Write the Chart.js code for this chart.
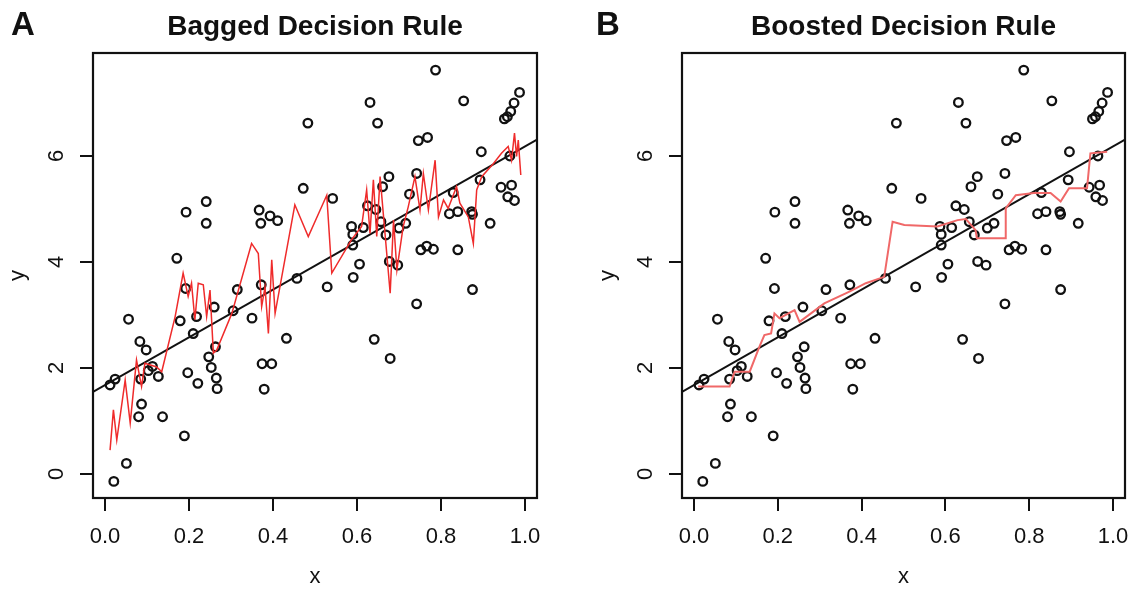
<!DOCTYPE html>
<html>
<head>
<meta charset="utf-8">
<script src="https://cdn.jsdelivr.net/npm/chart.js@4/dist/chart.umd.min.js"></script>
<style>
  body { margin: 0; background: #fff; }
  #wrap { position: relative; width: 1134px; height: 590px; overflow: hidden; }
  .tag { position: absolute; top: 7px; font: bold 33px/33px "Liberation Sans", Arial, sans-serif; color: #111; }
  canvas { position: absolute; top: 0; }
</style>
</head>
<body>
<div id="wrap">
  <canvas id="chartA" width="567" height="590" style="left:0"></canvas>
  <canvas id="chartB" width="567" height="590" style="left:567px"></canvas>
  <div class="tag" style="left:11px">A</div>
  <div class="tag" style="left:596px">B</div>
</div>
<script>
// ── DATA ──────────────────────────────────────────────────
const xTicks = [0, 0.2, 0.4, 0.6, 0.8, 1.0];
const yTicks = [0, 2, 4, 6];
const xRange = [-0.0286, 1.0286];
const yRange = [-0.453, 7.943];

// observations (same in both panels)
const ptX = [0.012, 0.024, 0.021, 0.051, 0.056, 0.080, 0.083, 0.085, 0.087, 0.098,
  0.103, 0.113, 0.127, 0.137, 0.171, 0.179, 0.189, 0.192, 0.193, 0.197,
  0.210, 0.218, 0.221, 0.241, 0.241, 0.247, 0.253, 0.260, 0.263, 0.265,
  0.267, 0.305, 0.315, 0.350, 0.367, 0.371, 0.372, 0.374, 0.379, 0.393,
  0.397, 0.411, 0.432, 0.457, 0.472, 0.483, 0.529, 0.542, 0.587, 0.590,
  0.590, 0.591, 0.606, 0.615, 0.625, 0.631, 0.641, 0.645, 0.649, 0.657,
  0.661, 0.669, 0.676, 0.677, 0.679, 0.697, 0.700, 0.716, 0.725, 0.742,
  0.742, 0.746, 0.752, 0.766, 0.768, 0.782, 0.787, 0.820, 0.829, 0.840,
  0.840, 0.854, 0.873, 0.875, 0.875, 0.893, 0.896, 0.917, 0.943, 0.951,
  0.958, 0.959, 0.964, 0.966, 0.968, 0.974, 0.975, 0.987];
const ptY = [1.68, 1.79, -0.14, 0.20, 2.92, 1.08, 2.50, 1.79, 1.32, 2.34,
  1.95, 2.03, 1.84, 1.08, 4.07, 2.89, 0.72, 3.50, 4.94, 1.91,
  2.65, 2.97, 1.71, 5.14, 4.73, 2.21, 2.01, 3.15, 2.40, 1.81,
  1.61, 3.08, 3.48, 2.94, 4.98, 4.73, 3.57, 2.08, 1.60, 4.87,
  2.08, 4.78, 2.56, 3.69, 5.39, 6.62, 3.53, 5.20, 4.67, 4.52,
  4.32, 3.71, 3.96, 4.65, 5.06, 7.01, 2.54, 4.99, 6.62, 4.76,
  5.42, 4.51, 5.61, 4.01, 2.18, 3.94, 4.64, 4.73, 5.28, 5.67,
  3.21, 6.29, 4.23, 4.30, 6.35, 4.24, 7.62, 4.91, 5.31, 4.95,
  4.23, 7.04, 4.95, 4.90, 3.48, 5.55, 6.08, 4.73, 5.41, 6.70,
  6.74, 5.23, 6.00, 6.84, 5.45, 7.00, 5.16, 7.20];

// least squares line, read at the plot edges
const fitX = [-0.0286, 1.0286];
const fitY = [1.55, 6.31];

// bagged rule (panel A)
const bagX = [0.012, 0.020, 0.028, 0.048, 0.060, 0.075, 0.087, 0.095, 0.123, 0.135,
  0.167, 0.186, 0.198, 0.206, 0.214, 0.222, 0.234, 0.242, 0.250, 0.258,
  0.266, 0.302, 0.349, 0.365, 0.373, 0.381, 0.389, 0.397, 0.405, 0.452,
  0.484, 0.528, 0.540, 0.587, 0.611, 0.623, 0.631, 0.639, 0.647, 0.655,
  0.679, 0.687, 0.695, 0.710, 0.722, 0.738, 0.750, 0.758, 0.770, 0.786,
  0.794, 0.806, 0.817, 0.837, 0.845, 0.865, 0.877, 0.885, 0.897, 0.925,
  0.944, 0.960, 0.968, 0.975, 0.980, 0.984, 0.990];
const bagY = [0.45, 1.21, 0.64, 1.77, 0.96, 2.15, 1.65, 2.09, 2.02, 1.93,
  2.97, 3.79, 3.35, 3.60, 2.91, 3.60, 3.57, 2.97, 3.47, 2.28,
  2.34, 3.03, 4.35, 4.16, 3.16, 3.53, 2.65, 4.04, 3.03, 5.08,
  4.48, 5.26, 3.79, 4.42, 4.67, 5.36, 4.54, 5.55, 4.48, 5.61,
  3.41, 4.79, 3.85, 4.67, 5.04, 5.61, 4.98, 5.67, 4.98, 5.92,
  4.85, 5.17, 5.01, 5.42, 5.11, 4.85, 4.35, 5.36, 5.61, 5.86,
  6.05, 6.18, 5.92, 6.43, 5.99, 6.30, 5.64];

// boosted rule (panel B)
const boostX = [0.010, 0.085, 0.097, 0.133, 0.156, 0.168, 0.184, 0.192, 0.204, 0.240,
  0.252, 0.311, 0.371, 0.410, 0.454, 0.474, 0.502, 0.581, 0.629, 0.649,
  0.672, 0.675, 0.744, 0.744, 0.768, 0.811, 0.851, 0.875, 0.895, 0.938,
  0.946, 0.986];
const boostY = [1.65, 1.65, 1.93, 1.93, 2.40, 2.62, 2.65, 3.03, 2.94, 3.09,
  2.87, 3.22, 3.44, 3.60, 3.72, 4.76, 4.70, 4.67, 4.79, 4.81,
  4.60, 4.45, 4.45, 5.01, 5.26, 5.30, 5.30, 5.14, 5.39, 5.39,
  6.05, 6.08];

// ── STYLE ─────────────────────────────────────────────────
const INK  = '#111';
const FONT = '"Liberation Sans", Arial, sans-serif';
const toXY = (xs, ys) => xs.map((x, i) => ({ x, y: ys[i] }));

// box round the plot + R-style y tick labels (parallel to the axis)
const frame = {
  id: 'frame',
  afterDraw(chart) {
    const { ctx, chartArea: a, scales: { y } } = chart;
    ctx.save();
    ctx.strokeStyle = INK;
    ctx.lineWidth = 2.2;
    ctx.strokeRect(a.left, a.top, a.right - a.left, a.bottom - a.top);
    ctx.fillStyle = INK;
    ctx.font = '22px ' + FONT;
    ctx.textAlign = 'center';
    ctx.textBaseline = 'middle';
    y.ticks.forEach(t => {
      ctx.save();
      ctx.translate(a.left - 36, y.getPixelForValue(t.value));
      ctx.rotate(-Math.PI / 2);
      ctx.fillText(String(t.value), 0, 0);
      ctx.restore();
    });
    ctx.restore();
  }
};

function makePanel(id, title, ruleX, ruleY, rule, pad) {
  new Chart(document.getElementById(id), {
    type: 'scatter',
    data: {
      datasets: [
        { data: toXY(ruleX, ruleY), showLine: true, pointRadius: 0,
          borderColor: rule.color, borderWidth: rule.width, order: 0 },
        { data: toXY(fitX, fitY), showLine: true, pointRadius: 0,
          borderColor: INK, borderWidth: 2, order: 1 },
        { data: toXY(ptX, ptY), pointRadius: 4.3, pointBorderWidth: 2.3,
          pointBackgroundColor: 'rgba(0,0,0,0)', pointBorderColor: INK, order: 2 }
      ]
    },
    options: {
      responsive: false,
      animation: false,
      events: [],
      layout: { autoPadding: false,
                padding: { left: pad.left, right: pad.right, top: 0, bottom: 0 } },
      plugins: {
        legend: { display: false },
        tooltip: { enabled: false },
        title: {
          display: true, text: title, fullSize: false, color: INK,
          font: { family: FONT, size: 28, weight: 'bold' },
          padding: { top: 10, bottom: 9.4 }
        }
      },
      scales: {
        x: {
          type: 'linear', min: xRange[0], max: xRange[1],
          afterBuildTicks: s => { s.ticks = xTicks.map(v => ({ value: v })); },
          afterFit: s => { s.height = 92; s.paddingLeft = 0; s.paddingRight = 0; },
          border: { display: false },
          grid: { drawOnChartArea: false, drawTicks: true, tickLength: 13, color: INK, lineWidth: 2 },
          ticks: { color: INK, font: { family: FONT, size: 22 }, padding: 13,
                   autoSkip: false, maxRotation: 0, minRotation: 0,
                   callback: v => v.toFixed(1) },
          title: { display: true, text: 'x', color: INK, font: { family: FONT, size: 22 },
                   padding: { top: 0, bottom: 0 } }
        },
        y: {
          type: 'linear', min: yRange[0], max: yRange[1],
          afterBuildTicks: s => { s.ticks = yTicks.map(v => ({ value: v })); },
          afterFit: s => { s.width = pad.axis; s.paddingTop = 0; s.paddingBottom = 0; },
          border: { display: false },
          grid: { drawOnChartArea: false, drawTicks: true, tickLength: 13, color: INK, lineWidth: 2 },
          ticks: { display: false },
          title: { display: true, text: 'y', color: INK, font: { family: FONT, size: 22 },
                   padding: { top: 5, bottom: 0 } }
        }
      }
    },
    plugins: [frame]
  });
}

makePanel('chartA', 'Bagged Decision Rule', bagX, bagY,
  { color: '#ef2b2b', width: 1.5 }, { left: 0, right: 30, axis: 93 });
makePanel('chartB', 'Boosted Decision Rule', boostX, boostY,
  { color: '#f06868', width: 2 }, { left: 23, right: 9, axis: 92 });
</script>
</body>
</html>
